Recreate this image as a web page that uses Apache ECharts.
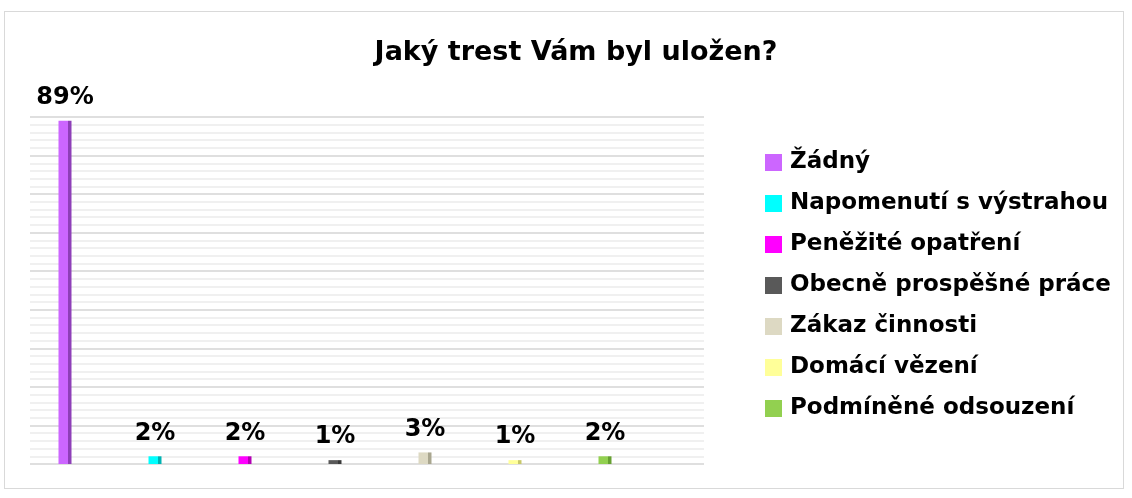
<!DOCTYPE html>
<html>
<head>
<meta charset="utf-8">
<script src="https://cdn.jsdelivr.net/npm/echarts@6/dist/echarts.min.js"></script>
<style>
  html, body { margin: 0; padding: 0; background: #fff; }
  #frame {
    position: absolute; left: 4px; top: 11px; width: 1120px; height: 478px;
    border: 1px solid #d9d9d9; box-sizing: border-box;
  }
  #chart { width: 1132px; height: 498px; position: absolute; left: 0; top: 0; }
</style>
</head>
<body>
<div id="frame"></div>
<div id="chart"></div>
<script>
// odpovědi a podíly (v %)
const categories = ['Žádný', 'Napomenutí s výstrahou', 'Peněžité opatření', 'Obecně prospěšné práce', 'Zákaz činnosti', 'Domácí vězení', 'Podmíněné odsouzení']
const values = [89, 2, 2, 1, 3, 1, 2]
const faceColors = ['#cc66ff', '#00ffff', '#ff00ff', '#595959', '#ddd9c3', '#ffff99', '#92d050']
const sideColors = ['#8e3fb8', '#00b3b3', '#b300b3', '#3a3a3a', '#a9a68f', '#c8c86a', '#66a032']

const chart = echarts.init(document.getElementById('chart'))

const font = 'DejaVu Sans'

// každá kategorie jako vlastní série (kvůli legendě), stack je srovná na střed
const series = categories.map((name, i) => ({
  name: name,
  type: 'bar',
  stack: 'all',
  barWidth: 13,
  xAxisIndex: 0,
  yAxisIndex: 0,
  data: values.map((v, j) => (j === i ? v : null)),
  itemStyle: {
    color: new echarts.graphic.LinearGradient(0, 0, 1, 0, [
      { offset: 0, color: faceColors[i] },
      { offset: 0.75, color: faceColors[i] },
      { offset: 0.75, color: sideColors[i] },
      { offset: 1, color: sideColors[i] }
    ])
  },
  label: {
    show: true,
    position: 'top',
    distance: 11,
    formatter: values[i] + '%',
    color: '#000',
    fontFamily: font,
    fontWeight: 'bold',
    fontSize: 24
  }
}))

const option = {
  animation: false,
  title: {
    text: 'Jaký trest Vám byl uložen?',
    left: 571,
    textAlign: 'center',
    top: 34,
    textStyle: {
      fontFamily: font,
      fontWeight: 'bold',
      fontSize: 27,
      color: '#000'
    }
  },
  legend: {
    orient: 'vertical',
    left: 760,
    top: 146,
    icon: 'rect',
    itemWidth: 17,
    itemHeight: 17,
    itemGap: 18,
    itemStyle: { borderWidth: 0 },
    data: categories.map((name, i) => ({ name: name, itemStyle: { color: faceColors[i] } })),
    textStyle: {
      fontFamily: font,
      fontWeight: 'bold',
      fontSize: 23,
      color: '#000',
      padding: [0, 0, 0, 3]
    }
  },
  grid: [
    // sloupce
    { left: 20, top: 117, width: 630, height: 347 },
    // mřížka zadní stěny
    { left: 30, top: 117, width: 674, height: 347 }
  ],
  xAxis: [
    { type: 'category', gridIndex: 0, data: categories, show: false },
    { type: 'value', gridIndex: 1, min: 0, max: 1, show: false }
  ],
  yAxis: [
    { type: 'value', gridIndex: 0, min: 0, max: 90, interval: 10, show: false },
    {
      type: 'value',
      gridIndex: 1,
      min: 0,
      max: 90,
      interval: 10,
      axisLine: { show: false },
      axisTick: { show: false },
      axisLabel: { show: false },
      splitLine: { lineStyle: { color: '#d4d4d4', width: 1.5 } },
      minorTick: { show: false, splitNumber: 5 },
      minorSplitLine: { show: true, lineStyle: { color: '#ececec', width: 1.5 } }
    }
  ],
  series: series
}

chart.setOption(option)
</script>
</body>
</html>
